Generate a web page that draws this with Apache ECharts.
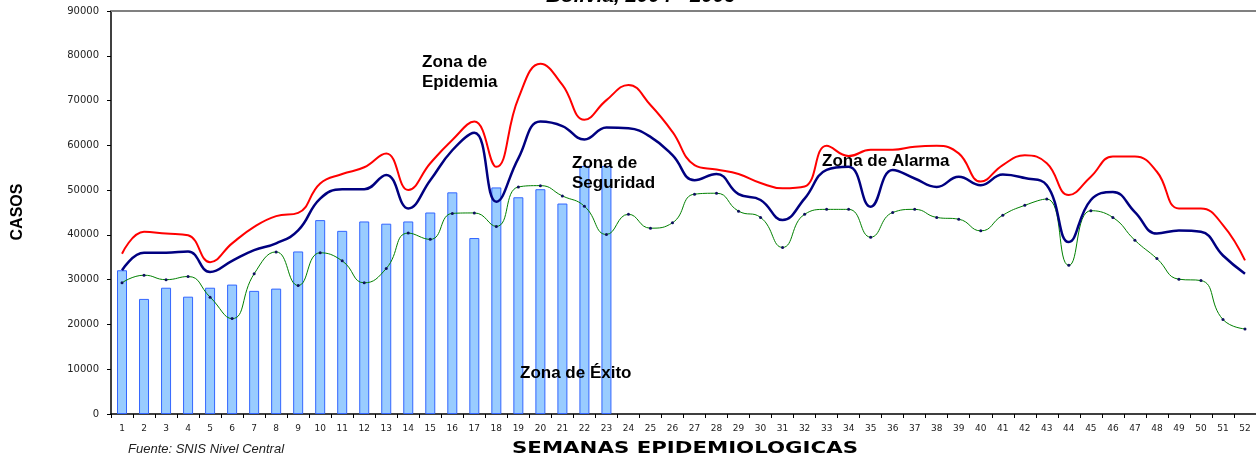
<!DOCTYPE html>
<html>
<head>
<meta charset="utf-8">
<script src="https://cdn.jsdelivr.net/npm/echarts@6/dist/echarts.min.js"></script>
<style>
html,body{margin:0;padding:0;background:#fff;}
#chart{width:1256px;height:460px;}
</style>
</head>
<body>
<div id="chart"></div>
<script>
var weeks = ['1','2','3','4','5','6','7','8','9','10','11','12','13','14','15','16','17','18','19','20','21','22','23','24','25','26','27','28','29','30','31','32','33','34','35','36','37','38','39','40','41','42','43','44','45','46','47','48','49','50','51','52'];

var casos = [32100,25700,28200,26200,28200,28900,27500,28000,36300,43300,40900,43000,42500,43000,45000,49500,39300,50600,48400,50200,47000,55400,55400];

var epidemia = [35800,40700,40300,39900,33900,38100,41800,44200,44900,51500,53600,55100,58200,50000,56000,61200,65300,55200,70500,78200,73500,65700,70100,73500,69000,63000,55600,54600,53600,51600,50400,50800,59900,57600,59000,59000,59700,59900,58200,51900,55600,57800,56000,48900,53000,57500,57500,54100,45900,45900,42200,34300];

var alarma = [32100,36000,36000,36300,31700,34200,36600,38100,41000,48100,50200,50200,53400,45900,52200,58900,62800,47400,57100,65300,64300,61300,64000,63800,61900,57800,52200,53600,49100,47800,43300,48100,54500,55200,46300,54500,52600,50700,53000,51100,53500,52700,51100,38400,47800,49600,45100,40300,41000,40700,35400,31300];

var seguridad = [29300,31000,30000,30700,26100,21300,31300,36200,28700,36000,34200,29300,32500,40400,39000,44800,44900,41900,50700,51000,48700,46400,40100,44600,41500,42700,49100,49300,45300,43900,37200,44600,45700,45700,39500,45000,45700,43900,43500,40900,44400,46600,48000,33200,45400,43900,38800,34700,30100,29800,21100,19000];

var yTicks = {min: 0, max: 90000, interval: 10000};

var chart = echarts.init(document.getElementById('chart'), null, {renderer: 'canvas'});
var annFont = {fontFamily: 'Liberation Sans', fontWeight: 'bold', fontSize: 17, fill: '#000'};
function ann(text, x, y) {
  return {type: 'text', x: x, y: y, z: 100, style: Object.assign({text: text, align: 'left', verticalAlign: 'top', lineHeight: 20}, annFont)};
}
chart.setOption({
  animation: false,
  backgroundColor: '#fff',
  grid: {left: 111, right: 0, top: 11, bottom: 46, containLabel: false},
  xAxis: [{
    type: 'category',
    data: weeks,
    boundaryGap: true,
    axisLine: {lineStyle: {color: '#000', width: 1.5}},
    axisTick: {show: true, alignWithLabel: false, length: 4, lineStyle: {color: '#000'}},
    axisLabel: {color: '#222', fontFamily: 'DejaVu Sans', fontSize: 9, margin: 10, interval: 0},
    splitLine: {show: false}
  }, {
    type: 'category',
    data: weeks,
    position: 'top',
    axisLine: {lineStyle: {color: '#808080', width: 2}},
    axisTick: {show: false},
    axisLabel: {show: false}
  }],
  yAxis: {
    type: 'value',
    min: yTicks.min, max: yTicks.max, interval: yTicks.interval,
    axisLine: {show: true, lineStyle: {color: '#000', width: 1.5}},
    axisTick: {show: true, inside: false, length: 4, lineStyle: {color: '#000'}},
    axisLabel: {color: '#222', fontFamily: 'DejaVu Sans', fontSize: 10, margin: 12, formatter: function (v) { return String(v); }},
    splitLine: {show: false}
  },
  series: [
    {
      name: 'Casos', type: 'bar', data: casos, barWidth: 10,
      itemStyle: {color: '#99CCFF', borderColor: '#3366FF', borderWidth: 1},
      z: 2
    },
    {
      name: 'Seguridad', type: 'line', data: seguridad, smooth: 0.5,
      symbol: 'circle', symbolSize: 3, showSymbol: true,
      lineStyle: {color: '#008000', width: 1},
      itemStyle: {color: '#101060'},
      z: 3
    },
    {
      name: 'Alarma', type: 'line', data: alarma, smooth: 0.45,
      symbol: 'none',
      lineStyle: {color: '#000080', width: 2.5},
      z: 4
    },
    {
      name: 'Epidemia', type: 'line', data: epidemia, smooth: 0.45,
      symbol: 'none',
      lineStyle: {color: '#FF0000', width: 2},
      z: 5
    }
  ],
  graphic: [
    {type: 'text', x: 641, y: -3, scaleX: 1.15, style: {text: 'Bolivia, 2004 - 2009', fontFamily: 'Liberation Sans', fontWeight: 'bold', fontStyle: 'italic', fontSize: 18, fill: '#000', align: 'center', verticalAlign: 'middle'}},
    {type: 'text', x: 18, y: 212, rotation: Math.PI / 2, style: {text: 'CASOS', fontFamily: 'Liberation Sans', fontWeight: 'bold', fontSize: 16, fill: '#000', align: 'center', verticalAlign: 'middle'}},
    {type: 'text', x: 685, y: 449, scaleX: 1.42, style: {text: 'SEMANAS EPIDEMIOLOGICAS', fontFamily: 'DejaVu Sans', fontWeight: 'bold', fontSize: 15, fill: '#000', align: 'center', verticalAlign: 'middle'}},
    {type: 'text', x: 128, y: 449, style: {text: 'Fuente: SNIS Nivel Central', fontFamily: 'Liberation Sans', fontStyle: 'italic', fontSize: 13, fill: '#222', align: 'left', verticalAlign: 'middle'}},
    ann('Zona de\nEpidemia', 422, 52),
    ann('Zona de\nSeguridad', 572, 153),
    ann('Zona de Alarma', 822, 151),
    ann('Zona de Éxito', 520, 363)
  ]
});
</script>
</body>
</html>
